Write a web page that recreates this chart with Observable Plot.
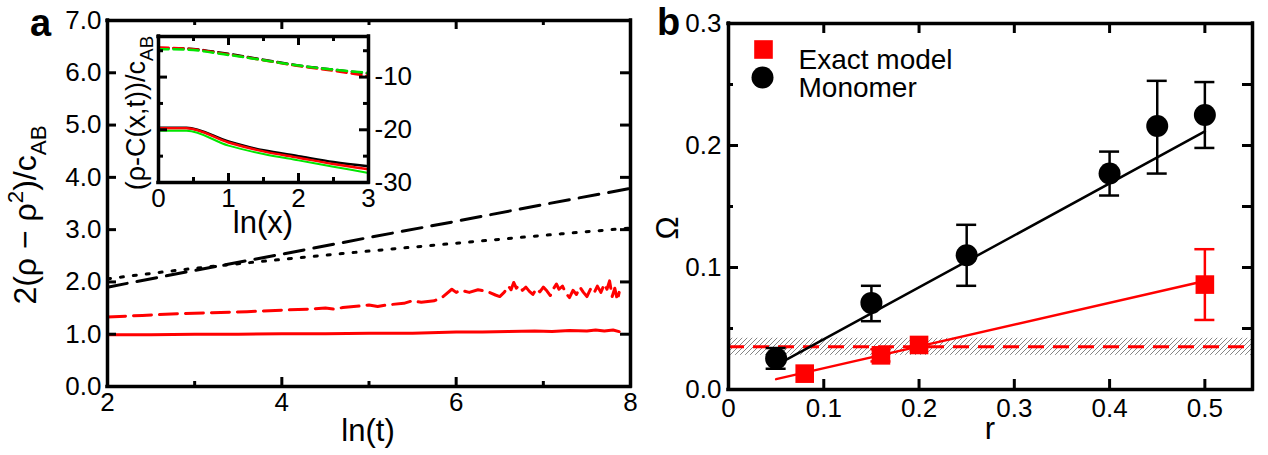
<!DOCTYPE html>
<html>
<head>
<meta charset="utf-8">
<script src="https://cdn.jsdelivr.net/npm/d3@7"></script>
<script src="https://cdn.jsdelivr.net/npm/@observablehq/plot@0.6"></script>
<style>
  body { margin: 0; background: #fff; }
  #fig { position: relative; width: 1268px; height: 455px; overflow: hidden; }
  #fig svg { position: absolute; overflow: visible; max-width: none; }
</style>
</head>
<body>
<div id="fig"></div>
<script>
// ---------- Panel a: 2(rho - rho^2)/c_AB against ln(t) ----------
const aBlackDashT = [2, 3, 4, 5, 6, 7, 8];
const aBlackDashV = [1.90, 2.22, 2.53, 2.85, 3.16, 3.48, 3.79];
const aBlackDotT = [2, 3, 4, 5, 6, 7, 8];
const aBlackDotV = [2.06, 2.26, 2.43, 2.59, 2.74, 2.89, 3.03];
const aRedDashT = [2.0, 2.4, 2.8, 3.2, 3.6, 4.0, 4.3, 4.5, 4.6, 4.7, 4.9, 5.0, 5.1, 5.2, 5.4, 5.5, 5.6, 5.75,
  5.85, 5.95, 6.0, 6.05, 6.15, 6.25, 6.35, 6.45, 6.5, 6.55, 6.6, 6.63, 6.66, 6.69, 6.72, 6.76, 6.8, 6.84,
  6.88, 6.92, 6.96, 7.0, 7.04, 7.08, 7.12, 7.15, 7.18, 7.22, 7.26, 7.3, 7.34, 7.38, 7.42, 7.46, 7.5, 7.54,
  7.58, 7.62, 7.66, 7.7, 7.73, 7.76, 7.79, 7.82, 7.85, 7.87];
const aRedDashV = [1.33, 1.36, 1.39, 1.41, 1.43, 1.46, 1.48, 1.50, 1.48, 1.51, 1.54, 1.56, 1.53, 1.56, 1.59, 1.64, 1.61, 1.64,
  1.72, 1.86, 1.80, 1.84, 1.80, 1.85, 1.82, 1.75, 1.72, 1.80, 1.92, 1.85, 1.99, 1.88, 1.93, 1.84, 1.90, 1.82,
  1.76, 1.87, 1.81, 1.90, 1.83, 1.74, 1.88, 1.96, 1.86, 1.92, 1.78, 1.70, 1.84, 1.76, 1.90, 1.80, 1.72, 1.86,
  1.78, 1.92, 1.80, 1.96, 1.86, 2.02, 1.72, 1.88, 1.65, 1.80];
const aRedSolidT = [2.0, 2.5, 3.0, 3.5, 4.0, 4.5, 5.0, 5.5, 6.0, 6.3, 6.6, 6.9, 7.1, 7.3, 7.5, 7.6, 7.7, 7.8, 7.87];
const aRedSolidV = [0.99, 0.99, 1.00, 1.00, 1.01, 1.01, 1.02, 1.02, 1.04, 1.04, 1.05, 1.06, 1.05, 1.07, 1.06, 1.08, 1.06, 1.08, 1.05];
const aXDomain = [2, 8];
const aYDomain = [0, 7];
const aXMajor = [2, 4, 6, 8];
const aXMinor = [3, 5, 7];
const aYMajor = [0, 1, 2, 3, 4, 5, 6, 7];

// ---------- Inset: (rho - C(x,t))/c_AB against ln(x) ----------
const insetX = [0, 0.4, 1, 1.5, 2, 2.5, 3];
const insetDashBlack = [-4.5, -4.6, -5.6, -6.7, -7.8, -8.6, -9.3];
const insetDashRed = [-4.4, -4.6, -5.7, -6.8, -7.9, -8.8, -9.8];
const insetDashGreen = [-4.7, -4.8, -5.8, -6.8, -7.8, -8.6, -9.2];
const insetSolidBlack = [-19.6, -19.6, -22.2, -23.9, -25.0, -26.1, -26.9];
const insetSolidRed = [-19.7, -19.7, -22.4, -24.1, -25.3, -26.5, -27.5];
const insetSolidGreen = [-20.2, -20.2, -23.0, -24.6, -25.8, -27.0, -28.2];
const insetXDomain = [0, 3];
const insetYDomain = [-30, -2.3];
const insetXMajor = [0, 1, 2, 3];
const insetXMinor = [0.5, 1.5, 2.5];
const insetYMajor = [-10, -20, -30];
const insetYMinor = [-5, -15, -25];

// ---------- Panel b: Omega against r ----------
const monoR = [0.05, 0.15, 0.25, 0.40, 0.45, 0.50];
const monoOmega = [0.0255, 0.071, 0.110, 0.177, 0.216, 0.225];
const monoLo = [0.017, 0.056, 0.085, 0.159, 0.177, 0.198];
const monoHi = [0.034, 0.085, 0.135, 0.195, 0.253, 0.252];
const exactR = [0.08, 0.16, 0.20, 0.50];
const exactOmega = [0.013, 0.028, 0.0365, 0.086];
const exactLo = [0.013, 0.023, 0.0365, 0.057];
const exactHi = [0.013, 0.033, 0.0365, 0.115];
const monoFitR = [0.055, 0.50];
const monoFitOmega = [0.022, 0.2115];
const exactFitR = [0.05, 0.50];
const exactFitOmega = [0.0085, 0.089];
const bandMid = 0.035;
const bandLo = 0.028;
const bandHi = 0.042;
const legendLabels = ["Exact model", "Monomer"];
const bXDomain = [0, 0.55];
const bYDomain = [0, 0.3];
const bXTicks = [0, 0.1, 0.2, 0.3, 0.4, 0.5];
const bYMajor = [0, 0.1, 0.2, 0.3];
const bYMinor = [0.05, 0.15, 0.25];

const FONT = '"Liberation Sans", Arial, Helvetica, sans-serif';
const RED = "#ff0000";
const GREEN = "#00e600";
const FRAME_W = 3.5;
const TICK_W = 3;
const fig = document.getElementById("fig");

const zip = (xs, ys) => xs.map((x, i) => ({x, y: ys[i]}));

// Box around the plotting area, drawn as four rules at the domain ends.
function box(xDomain, yDomain) {
  const o = {stroke: "black", strokeWidth: FRAME_W, strokeLinecap: "square"};
  return [
    Plot.ruleX(xDomain, {x: d => d, ...o}),
    Plot.ruleY(yDomain, {y: d => d, ...o})
  ];
}

// Short inward ticks along the frame edges.
function edgeTicks(specs, innerW, innerH) {
  return specs.map(({side, values, len, sw = TICK_W}) => {
    if (side === "bottom") return Plot.tickX(values, {x: d => d, insetTop: innerH - len, strokeWidth: sw});
    if (side === "top") return Plot.tickX(values, {x: d => d, insetBottom: innerH - len, strokeWidth: sw});
    if (side === "left") return Plot.tickY(values, {y: d => d, insetRight: innerW - len, strokeWidth: sw});
    return Plot.tickY(values, {y: d => d, insetLeft: innerW - len, strokeWidth: sw});
  });
}

// Text with sub/superscript pieces.
function richText(svg, {x, y, size, rotate = 0, anchor = "middle", weight = "normal", parts}) {
  const t = d3.select(svg).append("text")
    .attr("transform", `translate(${x},${y}) rotate(${rotate})`)
    .attr("text-anchor", anchor)
    .attr("font-family", FONT)
    .attr("font-size", size)
    .attr("font-weight", weight)
    .attr("fill", "black");
  let shift = 0;
  for (const [str, kind] of parts) {
    const target = kind === "sub" ? 0.3 * size : kind === "sup" ? -0.4 * size : 0;
    t.append("tspan")
      .attr("dy", target - shift)
      .attr("font-size", kind ? 0.7 * size : size)
      .text(str);
    shift = target;
  }
}

function place(svg, left, top) {
  svg.style.left = left + "px";
  svg.style.top = top + "px";
  fig.appendChild(svg);
}

// ================= Panel a =================
{
  const W = 640, H = 455, M = {top: 20, right: 10, bottom: 69, left: 107};
  const iW = W - M.left - M.right, iH = H - M.top - M.bottom;
  const svg = Plot.plot({
    width: W, height: H,
    marginTop: M.top, marginRight: M.right, marginBottom: M.bottom, marginLeft: M.left,
    x: {domain: aXDomain},
    y: {domain: aYDomain},
    style: {fontFamily: FONT, fontSize: "26px", color: "black", background: "transparent"},
    marks: [
      Plot.line(zip(aBlackDotT, aBlackDotV), {x: "x", y: "y", stroke: "black", strokeWidth: 3, strokeDasharray: "3,10", curve: "monotone-x"}),
      Plot.line(zip(aBlackDashT, aBlackDashV), {x: "x", y: "y", stroke: "black", strokeWidth: 3, strokeDasharray: "20,10"}),
      Plot.line(zip(aRedDashT, aRedDashV), {x: "x", y: "y", stroke: RED, strokeWidth: 3, strokeDasharray: "18,8"}),
      Plot.line(zip(aRedSolidT, aRedSolidV), {x: "x", y: "y", stroke: RED, strokeWidth: 3}),
      ...box(aXDomain, aYDomain),
      ...edgeTicks([
        {side: "bottom", values: aXMajor, len: 9},
        {side: "bottom", values: aXMinor, len: 5},
        {side: "top", values: aXMajor, len: 9},
        {side: "top", values: aXMinor, len: 5},
        {side: "left", values: aYMajor, len: 9},
        {side: "right", values: aYMajor, len: 10}
      ], iW, iH),
      Plot.axisX({ticks: aXMajor, tickSize: 0, tickPadding: 6, label: null, fontSize: 26, tickFormat: d => String(d)}),
      Plot.axisY({ticks: aYMajor, tickSize: 0, tickPadding: 6, label: null, fontSize: 26, tickFormat: d => d.toFixed(1)})
    ]
  });
  place(svg, 0, 0);
  richText(svg, {x: 30, y: 36, size: 38, weight: "bold", anchor: "start", parts: [["a"]]});
  richText(svg, {x: 368, y: 441, size: 31, parts: [["ln(t)"]]});
  richText(svg, {x: 36, y: 215, size: 32, rotate: -90, parts: [["2(ρ − ρ"], ["2", "sup"], [")/c"], ["AB", "sub"]]});
}

// ================= Inset =================
{
  const W = 440, H = 250, M = {top: 36, right: 72, bottom: 68, left: 158};
  const iW = W - M.left - M.right, iH = H - M.top - M.bottom;
  const svg = Plot.plot({
    width: W, height: H,
    marginTop: M.top, marginRight: M.right, marginBottom: M.bottom, marginLeft: M.left,
    x: {domain: insetXDomain},
    y: {domain: insetYDomain},
    style: {fontFamily: FONT, fontSize: "26px", color: "black", background: "transparent"},
    marks: [
      Plot.frame({fill: "white", stroke: "none"}),
      Plot.line(zip(insetX, insetDashBlack), {x: "x", y: "y", stroke: "black", strokeWidth: 2.5, strokeDasharray: "10,5", curve: "monotone-x"}),
      Plot.line(zip(insetX, insetDashRed), {x: "x", y: "y", stroke: RED, strokeWidth: 2.5, strokeDasharray: "10,5", curve: "monotone-x"}),
      Plot.line(zip(insetX, insetDashGreen), {x: "x", y: "y", stroke: GREEN, strokeWidth: 2.5, strokeDasharray: "10,5", curve: "monotone-x"}),
      Plot.line(zip(insetX, insetSolidBlack), {x: "x", y: "y", stroke: "black", strokeWidth: 2.5, curve: "monotone-x"}),
      Plot.line(zip(insetX, insetSolidRed), {x: "x", y: "y", stroke: RED, strokeWidth: 2.5, curve: "monotone-x"}),
      Plot.line(zip(insetX, insetSolidGreen), {x: "x", y: "y", stroke: GREEN, strokeWidth: 2, curve: "monotone-x"}),
      ...box(insetXDomain, insetYDomain),
      ...edgeTicks([
        {side: "bottom", values: insetXMajor, len: 9},
        {side: "bottom", values: insetXMinor, len: 5},
        {side: "top", values: insetXMajor, len: 9},
        {side: "top", values: insetXMinor, len: 5},
        {side: "left", values: insetYMajor, len: 9},
        {side: "left", values: insetYMinor, len: 5},
        {side: "right", values: insetYMajor, len: 9},
        {side: "right", values: insetYMinor, len: 5}
      ], iW, iH),
      Plot.axisX({ticks: insetXMajor, tickSize: 0, tickPadding: 6, label: null, fontSize: 26, tickFormat: d => String(d)}),
      Plot.axisY({anchor: "right", ticks: insetYMajor, tickSize: 0, tickPadding: 6, label: null, fontSize: 26, tickFormat: d => String(d)})
    ]
  });
  place(svg, 0, 0);
  richText(svg, {x: 263, y: 233, size: 31, parts: [["ln(x)"]]});
  richText(svg, {x: 145, y: 113, size: 27, rotate: -90, parts: [["(ρ-C(x,t))/c"], ["AB", "sub"]]});
}

// ================= Panel b =================
{
  const W = 628, H = 455, M = {top: 23, right: 16, bottom: 66, left: 88};
  const iW = W - M.left - M.right, iH = H - M.top - M.bottom;
  const monomer = monoR.map((r, i) => ({r, omega: monoOmega[i], lo: monoLo[i], hi: monoHi[i]}));
  const exact = exactR.map((r, i) => ({r, omega: exactOmega[i], lo: exactLo[i], hi: exactHi[i]}));
  const exactBars = exact.filter(d => d.hi > d.lo);
  const capOpts = {insetLeft: -10, insetRight: -10, strokeWidth: 2.5};
  const svg = Plot.plot({
    width: W, height: H,
    marginTop: M.top, marginRight: M.right, marginBottom: M.bottom, marginLeft: M.left,
    x: {domain: bXDomain},
    y: {domain: bYDomain},
    style: {fontFamily: FONT, fontSize: "26px", color: "black", background: "transparent"},
    marks: [
      // uncertainty band of the reference level
      Plot.rect([{lo: bandLo, hi: bandHi}], {y1: "lo", y2: "hi", fill: "url(#hatch)"}),
      Plot.ruleY([bandMid], {stroke: RED, strokeWidth: 3, strokeDasharray: "16,9"}),
      // linear fits
      Plot.line(zip(monoFitR, monoFitOmega), {x: "x", y: "y", stroke: "black", strokeWidth: 2.5}),
      Plot.line(zip(exactFitR, exactFitOmega), {x: "x", y: "y", stroke: RED, strokeWidth: 2.5}),
      // error bars
      Plot.ruleX(monomer, {x: "r", y1: "lo", y2: "hi", stroke: "black", strokeWidth: 2.5}),
      Plot.ruleY(monomer, {y: "lo", x1: "r", x2: "r", stroke: "black", ...capOpts}),
      Plot.ruleY(monomer, {y: "hi", x1: "r", x2: "r", stroke: "black", ...capOpts}),
      Plot.ruleX(exactBars, {x: "r", y1: "lo", y2: "hi", stroke: RED, strokeWidth: 2.5}),
      Plot.ruleY(exactBars, {y: "lo", x1: "r", x2: "r", stroke: RED, ...capOpts}),
      Plot.ruleY(exactBars, {y: "hi", x1: "r", x2: "r", stroke: RED, ...capOpts}),
      // data points
      Plot.dot(monomer, {x: "r", y: "omega", r: 11, fill: "black", stroke: "none"}),
      Plot.dot(exact, {x: "r", y: "omega", symbol: "square", r: 10.5, fill: RED, stroke: "none"}),
      // legend
      Plot.dot([legendLabels[0]], {frameAnchor: "top-left", dx: 35, dy: 26, symbol: "square", r: 10.5, fill: RED, stroke: "none"}),
      Plot.dot([legendLabels[1]], {frameAnchor: "top-left", dx: 34, dy: 54, r: 11, fill: "black", stroke: "none"}),
      Plot.text([legendLabels[0]], {text: d => d, frameAnchor: "top-left", dx: 70, dy: 26, textAnchor: "start", fontSize: 28, fill: "black"}),
      Plot.text([legendLabels[1]], {text: d => d, frameAnchor: "top-left", dx: 70, dy: 54, textAnchor: "start", fontSize: 28, fill: "black"}),
      ...box(bXDomain, bYDomain),
      ...edgeTicks([
        {side: "bottom", values: bXTicks, len: 10},
        {side: "top", values: bXTicks, len: 10},
        {side: "left", values: bYMajor, len: 10},
        {side: "left", values: bYMinor, len: 5},
        {side: "right", values: bYMajor, len: 10},
        {side: "right", values: bYMinor, len: 10}
      ], iW, iH),
      Plot.axisX({ticks: bXTicks, tickSize: 0, tickPadding: 9, label: null, fontSize: 26, tickFormat: d => d === 0 ? "0" : d.toFixed(1)}),
      Plot.axisY({ticks: bYMajor, tickSize: 0, tickPadding: 7, label: null, fontSize: 26, tickFormat: d => d.toFixed(1)})
    ]
  });
  // diagonal hatch used by the band
  const defs = d3.select(svg).insert("defs", ":first-child");
  const pat = defs.append("pattern").attr("id", "hatch")
    .attr("patternUnits", "userSpaceOnUse").attr("width", 5).attr("height", 5);
  pat.append("path").attr("d", "M-1,1 l2,-2 M0,5 l5,-5 M4,6 l2,-2")
    .attr("stroke", "#666").attr("stroke-width", 0.8);
  place(svg, 640, 0);
  richText(svg, {x: 17, y: 35, size: 38, weight: "bold", anchor: "start", parts: [["b"]]});
  richText(svg, {x: 350, y: 439, size: 31, parts: [["r"]]});
  richText(svg, {x: 38, y: 228, size: 31, rotate: -90, parts: [["Ω"]]});
}
</script>
</body>
</html>
